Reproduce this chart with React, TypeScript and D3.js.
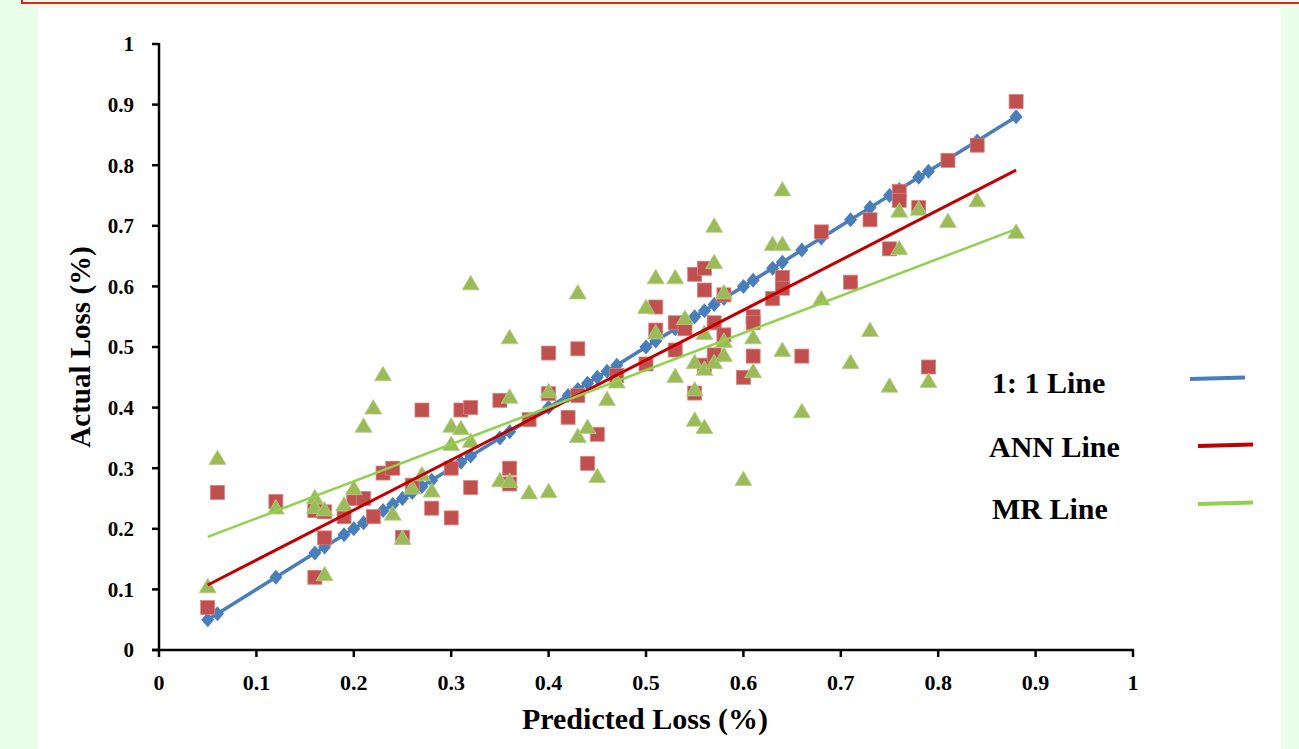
import React from 'react';
import * as d3 from 'd3';

// 1:1 line points (predicted = actual)
const oneToOne = [
  0.05, 0.06, 0.12, 0.16, 0.17, 0.19, 0.2, 0.21, 0.23, 0.24, 0.25, 0.26, 0.27, 0.28,
  0.3, 0.31, 0.32, 0.35, 0.36, 0.4, 0.42, 0.43, 0.44, 0.45, 0.46, 0.47, 0.5, 0.51,
  0.53, 0.54, 0.55, 0.56, 0.57, 0.58, 0.6, 0.61, 0.63, 0.64, 0.66, 0.68, 0.71, 0.73,
  0.75, 0.76, 0.78, 0.79, 0.84, 0.88,
];

// ANN model: [predicted, actual]
const annPoints: [number, number][] = [
  [0.05, 0.07], [0.06, 0.26], [0.12, 0.245], [0.16, 0.12], [0.16, 0.23], [0.17, 0.185],
  [0.17, 0.228], [0.19, 0.22], [0.2, 0.25], [0.21, 0.25], [0.22, 0.22], [0.23, 0.292],
  [0.24, 0.3], [0.25, 0.186], [0.26, 0.272], [0.27, 0.396], [0.28, 0.234], [0.3, 0.218],
  [0.3, 0.3], [0.31, 0.396], [0.32, 0.4], [0.32, 0.268], [0.35, 0.412], [0.36, 0.3],
  [0.36, 0.274], [0.38, 0.38], [0.4, 0.49], [0.4, 0.423], [0.42, 0.384], [0.43, 0.497],
  [0.43, 0.42], [0.44, 0.308], [0.45, 0.356], [0.47, 0.453], [0.5, 0.472], [0.51, 0.566],
  [0.51, 0.528], [0.53, 0.54], [0.53, 0.495], [0.54, 0.53], [0.55, 0.62], [0.55, 0.424],
  [0.56, 0.63], [0.56, 0.594], [0.56, 0.47], [0.57, 0.54], [0.57, 0.487], [0.58, 0.586],
  [0.58, 0.52], [0.6, 0.45], [0.61, 0.55], [0.61, 0.54], [0.61, 0.485], [0.63, 0.58],
  [0.64, 0.615], [0.64, 0.597], [0.66, 0.485], [0.68, 0.69], [0.71, 0.607], [0.73, 0.71],
  [0.75, 0.662], [0.76, 0.757], [0.76, 0.742], [0.78, 0.73], [0.79, 0.467], [0.81, 0.808],
  [0.84, 0.833], [0.88, 0.905],
];

// MR model: [predicted, actual]
const mrPoints: [number, number][] = [
  [0.05, 0.105], [0.06, 0.317], [0.12, 0.235], [0.16, 0.252], [0.16, 0.236], [0.17, 0.232],
  [0.17, 0.125], [0.19, 0.24], [0.2, 0.267], [0.21, 0.37], [0.22, 0.4], [0.23, 0.455],
  [0.24, 0.225], [0.25, 0.185], [0.26, 0.268], [0.27, 0.29], [0.28, 0.263], [0.3, 0.37],
  [0.3, 0.34], [0.31, 0.366], [0.32, 0.605], [0.32, 0.345], [0.35, 0.28], [0.36, 0.516],
  [0.36, 0.418], [0.36, 0.279], [0.38, 0.26], [0.4, 0.427], [0.4, 0.262], [0.43, 0.59],
  [0.43, 0.353], [0.44, 0.368], [0.45, 0.287], [0.46, 0.414], [0.47, 0.443], [0.5, 0.566],
  [0.51, 0.615], [0.51, 0.524], [0.53, 0.615], [0.53, 0.452], [0.54, 0.548], [0.55, 0.475],
  [0.55, 0.43], [0.55, 0.38], [0.56, 0.523], [0.56, 0.464], [0.56, 0.368], [0.57, 0.7],
  [0.57, 0.64], [0.57, 0.475], [0.58, 0.59], [0.58, 0.51], [0.58, 0.487], [0.6, 0.282],
  [0.61, 0.516], [0.61, 0.46], [0.63, 0.67], [0.64, 0.67], [0.64, 0.76], [0.64, 0.495],
  [0.66, 0.394], [0.68, 0.58], [0.71, 0.475], [0.73, 0.528], [0.75, 0.436], [0.76, 0.725],
  [0.76, 0.663], [0.78, 0.728], [0.79, 0.444], [0.81, 0.708], [0.84, 0.742], [0.88, 0.69],
];

// linear trend lines (slope, intercept) and their x range
const annFit = { slope: 0.825, intercept: 0.066 };
const mrFit = { slope: 0.612, intercept: 0.156 };
const fitRange = [0.05, 0.88];

const tickValues = [0, 0.1, 0.2, 0.3, 0.4, 0.5, 0.6, 0.7, 0.8, 0.9, 1];
const legendItems = [
  { label: '1: 1 Line', color: '#4a7ebb' },
  { label: 'ANN Line', color: '#c00000' },
  { label: 'MR Line', color: '#92d050' },
];

const W = 1299;
const H = 749;
const FONT = '"Liberation Serif", "Times New Roman", serif';

export default function App() {
  const x = d3.scaleLinear().domain([0, 1]).range([159, 1133]);
  const y = d3.scaleLinear().domain([0, 1]).range([650, 44]);

  const diagLine = d3.line<number>().x(d => x(d)).y(d => y(d));
  const fitLine = (f: { slope: number; intercept: number }) =>
    d3.line<number>().x(d => x(d)).y(d => y(f.slope * d + f.intercept))(fitRange) || '';

  const diamond = 'M0,-7.5L6.5,0L0,7.5L-6.5,0Z';
  const triangle = 'M0,-8L8.5,6.5L-8.5,6.5Z';

  const fmt = (v: number) => (v === 0 || v === 1 ? String(v) : v.toFixed(1));

  return (
    <svg
      width={W}
      height={H}
      style={{ position: 'absolute', left: 0, top: 0, background: '#e9fde9' }}
      fontFamily={FONT}
    >
      {/* red frame edge at the top and white panel */}
      <rect x={22} y={-10} width={W} height={13} fill="none" stroke="#e8221b" strokeWidth={2} />
      <rect x={38} y={8} width={1243} height={H} fill="#ffffff" />

      {/* 1:1 series */}
      <path d={diagLine(oneToOne) || ''} fill="none" stroke="#4a7ebb" strokeWidth={3.5} />
      {oneToOne.map((v, i) => (
        <path key={'d' + i} d={diamond} transform={`translate(${x(v)},${y(v)})`} fill="#4a7ebb" />
      ))}

      {/* ANN points */}
      {annPoints.map(([px, py], i) => (
        <rect
          key={'a' + i}
          x={x(px) - 7}
          y={y(py) - 7}
          width={14}
          height={14}
          fill="#c0504d"
          stroke="#d8827f"
          strokeWidth={0.8}
        />
      ))}

      {/* MR points */}
      {mrPoints.map(([px, py], i) => (
        <path
          key={'m' + i}
          d={triangle}
          transform={`translate(${x(px)},${y(py)})`}
          fill="#9bbb59"
          stroke="#b5cf86"
          strokeWidth={0.8}
        />
      ))}

      {/* trend lines */}
      <path d={fitLine(annFit)} fill="none" stroke="#c00000" strokeWidth={3} />
      <path d={fitLine(mrFit)} fill="none" stroke="#92d050" strokeWidth={2.5} />

      {/* axes */}
      <line x1={x(0)} x2={x(0)} y1={y(1) - 1} y2={y(0) + 1} stroke="#000" strokeWidth={2.5} />
      <line x1={x(0) - 7} x2={x(1) + 1} y1={y(0)} y2={y(0)} stroke="#000" strokeWidth={2.5} />
      {tickValues.map(t => (
        <g key={'yt' + t}>
          <line x1={x(0) - 7} x2={x(0)} y1={y(t)} y2={y(t)} stroke="#000" strokeWidth={2.5} />
          <text
            x={134}
            y={y(t)}
            dy="0.35em"
            textAnchor="end"
            fontSize={21}
            fontWeight="bold"
          >
            {fmt(t)}
          </text>
        </g>
      ))}
      {tickValues.map(t => (
        <g key={'xt' + t}>
          <line x1={x(t)} x2={x(t)} y1={y(0)} y2={y(0) + 7} stroke="#000" strokeWidth={2.5} />
          <text x={x(t)} y={690} textAnchor="middle" fontSize={22} fontWeight="bold">
            {fmt(t)}
          </text>
        </g>
      ))}

      {/* axis titles */}
      <text x={645} y={729} textAnchor="middle" fontSize={30} fontWeight="bold">
        Predicted Loss (%)
      </text>
      <text
        transform={`translate(90,${y(0.5)}) rotate(-90)`}
        textAnchor="middle"
        fontSize={29}
        fontWeight="bold"
      >
        Actual Loss (%)
      </text>

      {/* legend */}
      {legendItems.map((item, i) => {
        const ly = [379, 446, 504][i];
        const lx = [1190, 1198, 1198][i];
        const tx = [992, 989, 992][i];
        return (
          <g key={item.label}>
            <text x={tx} y={[393, 457, 519][i]} fontSize={30} fontWeight="bold">
              {item.label}
            </text>
            <line x1={lx} x2={lx + 55} y1={ly} y2={ly - 1.5} stroke={item.color} strokeWidth={4} />
          </g>
        );
      })}
    </svg>
  );
}
